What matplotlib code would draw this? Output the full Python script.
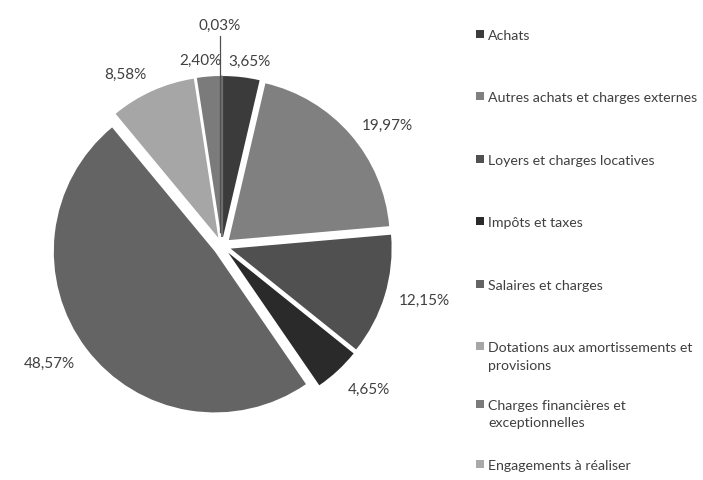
import math
import matplotlib.pyplot as plt
from matplotlib.patches import Rectangle

categories = ['Achats', 'Autres achats et charges externes', 'Loyers et charges locatives',
              'Impôts et taxes', 'Salaires et charges',
              'Dotations aux amortissements et\nprovisions',
              'Charges financières et\nexceptionnelles', 'Engagements à réaliser']
percents = [3.65, 19.97, 12.15, 4.65, 48.57, 8.58, 2.40, 0.03]
pct_labels = ['3,65%', '19,97%', '12,15%', '4,65%', '48,57%', '8,58%', '2,40%', '0,03%']
colors = ['#3b3b3b', '#808080', '#505050', '#2a2a2a', '#646464', '#a6a6a6', '#7b7b7b', '#a9a9a9']

W, H = 703, 481
plt.rcParams['font.family'] = ['Lato', 'DejaVu Sans']
fig = plt.figure(figsize=(W / 100, H / 100), dpi=100)
ax = fig.add_axes([0, 0, 1, 1])

R = 161
# explode is in data units here (pixels), not a fraction of the radius
wedges, _ = ax.pie(percents, colors=colors, startangle=90, counterclock=False,
                   explode=[9] * len(percents), radius=R, center=(222, H - 247),
                   wedgeprops=dict(edgecolor='none'))
wedges[-1].set_edgecolor('#6e6e6e')
wedges[-1].set_linewidth(1.0)

ax.set_xlim(0, W)
ax.set_ylim(0, H)
ax.set_aspect('equal')
ax.axis('off')

# label placement around the pie
nudge = {0: (-15, 2), 3: (0, -8), 4: (0, -6), 5: (0, 4), 6: (14, 2)}
for i, w in enumerate(wedges):
    if i == len(wedges) - 1:
        continue
    mid = math.radians((w.theta1 + w.theta2) / 2)
    cx, cy = w.center
    x = cx + 1.09 * R * math.cos(mid)
    y = cy + 1.09 * R * math.sin(mid)
    dx, dy = nudge.get(i, (0, 0))
    ha = 'left' if math.cos(mid) > 0 else 'right'
    ax.text(x + dx, y + dy, pct_labels[i], ha=ha, va='center', fontsize=11, color='#404040')

# tiny slice: label above with a leader line
w = wedges[-1]
cx, cy = w.center
ax.plot([cx - 2, cx - 2], [cy + 5, H - 37], color='#505050', lw=0.9)
ax.text(cx - 2, H - 26, pct_labels[-1], ha='center', va='center', fontsize=11, color='#404040')

# legend on the right
legend_y = [35, 97, 160, 222, 285, 347, 405, 465]
for name, c, yy in zip(categories, colors, legend_y):
    y = H - yy
    ax.add_patch(Rectangle((476, y - 4), 8, 8, facecolor=c, edgecolor='none'))
    ax.text(488, y + 5, name, ha='left', va='top', fontsize=10.2, color='#404040',
            linespacing=1.55)

fig.savefig('out.png', dpi=100)
